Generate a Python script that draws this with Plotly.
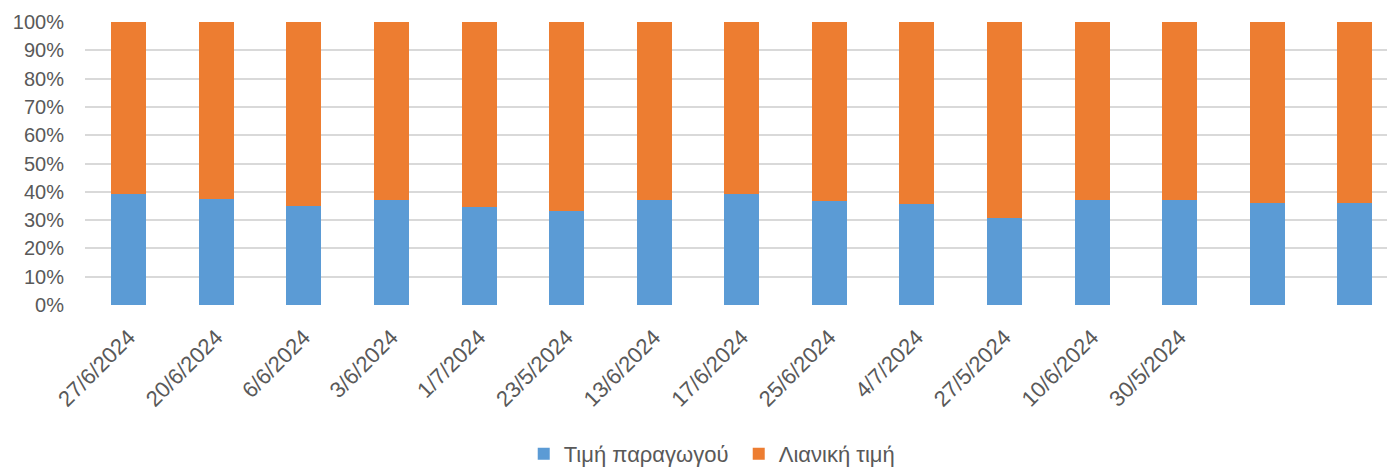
import plotly.graph_objects as go

labels = ["27/6/2024", "20/6/2024", "6/6/2024", "3/6/2024", "1/7/2024", "23/5/2024",
          "13/6/2024", "17/6/2024", "25/6/2024", "4/7/2024", "27/5/2024", "10/6/2024",
          "30/5/2024"]
n_bars = 15
producer = [39.1, 37.6, 35.0, 37.1, 34.6, 33.2, 37.1, 39.2, 36.7, 35.7, 30.9, 37.1, 37.0, 36.2, 36.1]
retail = [100 - p for p in producer]
x = list(range(n_bars))

fig = go.Figure()
fig.add_trace(go.Bar(x=x, y=producer, name="Τιμή παραγωγού", marker_color="#5b9bd5",
                     marker_line_width=0, width=0.4))
fig.add_trace(go.Bar(x=x, y=retail, name="Λιανική τιμή", marker_color="#ed7d31",
                     marker_line_width=0, width=0.4))

font_family = "Liberation Sans, Arial"
fig.update_layout(
    barmode="stack",
    width=1395, height=467,
    margin=dict(l=77, r=0, t=14, b=170),
    plot_bgcolor="white", paper_bgcolor="white",
    font=dict(family=font_family, size=20, color="#595959"),
    showlegend=True,
    legend=dict(orientation="h", x=0.496, xanchor="center", y=-0.527, yanchor="middle",
                font=dict(size=22, color="#595959"), traceorder="normal", itemwidth=30,
                entrywidth=170, entrywidthmode="pixels"),
    xaxis=dict(range=[-0.5, n_bars - 0.45], tickmode="array", tickvals=list(range(len(labels))),
               ticktext=labels, tickangle=-45, showgrid=False, zeroline=False,
               showline=False, ticks="", automargin=False, tickfont=dict(size=22),
               ticklabelstandoff=14),
    yaxis=dict(range=[0, 100], tickvals=list(range(0, 101, 10)),
               ticktext=[f"{v}%" for v in range(0, 101, 10)], automargin=False,
               gridcolor="#d9d9d9", gridwidth=1.5, zeroline=False, showline=False, ticks="",
               tickfont=dict(size=20), ticklabelstandoff=20),
)
fig.write_html("out.html")
